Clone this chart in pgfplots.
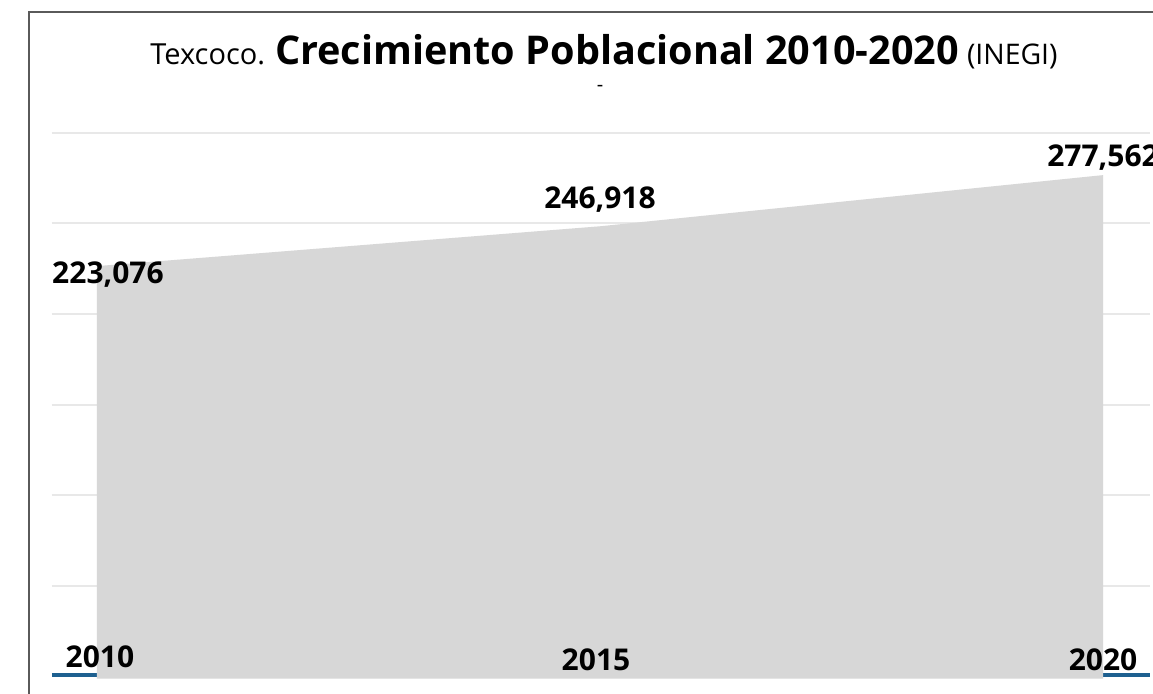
\documentclass[border=0pt]{standalone}
\usepackage{pgfplots}
\pgfplotsset{compat=1.18}
\usepackage{fontspec}
\setmainfont{Open Sans}
\definecolor{areagray}{HTML}{D7D7D7}
\definecolor{gridgray}{HTML}{E8E8E8}
\definecolor{framegray}{HTML}{5A5A5A}
\definecolor{axisblue}{HTML}{1E6090}
\pgfplotstableread{
year pop
2010 223076
2015 246918
2020 277562
}\popdata
\tikzset{lbl/.style={anchor=center, inner sep=0pt, font=\bfseries\fontsize{15}{18}\selectfont}}
\begin{document}
\begin{tikzpicture}
\clip (0pt,0pt) rectangle (576.5pt,347pt);
\fill[white] (0pt,0pt) rectangle (576.5pt,347pt);
\draw[framegray, line width=1.2pt] (14.5pt,-5pt) -- (14.5pt,341pt) -- (580pt,341pt);
\node[anchor=base west, inner sep=0pt] at (75pt,314.5pt) {%
  {\fontsize{14.5}{16}\selectfont Texcoco.}\hspace{5pt}%
  {\bfseries\fontsize{19.8}{22}\selectfont Crecimiento Poblacional 2010-2020}\hspace{4pt}%
  {\fontsize{14.2}{16}\selectfont (INEGI)}};
\node[anchor=center, inner sep=0pt, font=\fontsize{10}{12}\selectfont] at (300pt,303pt) {-};
\begin{axis}[
  at={(26pt,8.5pt)}, anchor=south west,
  scale only axis, width=549pt, height=272pt,
  xmin=2009.553, xmax=2020.467,
  ymin=-23000, ymax=302800,
  scaled y ticks=false,
  axis x line*=bottom, axis y line*=left,
  x axis line style={draw=axisblue, line width=1.6pt, -, yshift=1pt},
  y axis line style={draw=none},
  xtick=\empty,
  ytick={31500,86000,139900,194400,248900,302800},
  yticklabels={},
  major tick length=0pt,
  ymajorgrids,
  grid style={draw=gridgray, line width=0.8pt},
  clip=false,
]
\addplot[fill=areagray, draw=none] table[x=year, y=pop] {\popdata}
  -- (axis cs:2020,-24000) -- (axis cs:2010,-24000) -- cycle;
\node[lbl] at (axis cs:2010,223076) [xshift=5.5pt, yshift=-4pt] {223,076};
\node[lbl] at (axis cs:2015,246918) [yshift=13.5pt] {246,918};
\node[lbl] at (axis cs:2020,277562) [yshift=9pt] {277,562};
\node[lbl] at (axis cs:2010,-23000) [xshift=1.5pt, yshift=10pt] {2010};
\node[lbl] at (axis cs:2015,-23000) [xshift=-2pt, yshift=8.5pt] {2015};
\node[lbl] at (axis cs:2020,-23000) [yshift=8.5pt] {2020};
\end{axis}
\end{tikzpicture}
\end{document}
